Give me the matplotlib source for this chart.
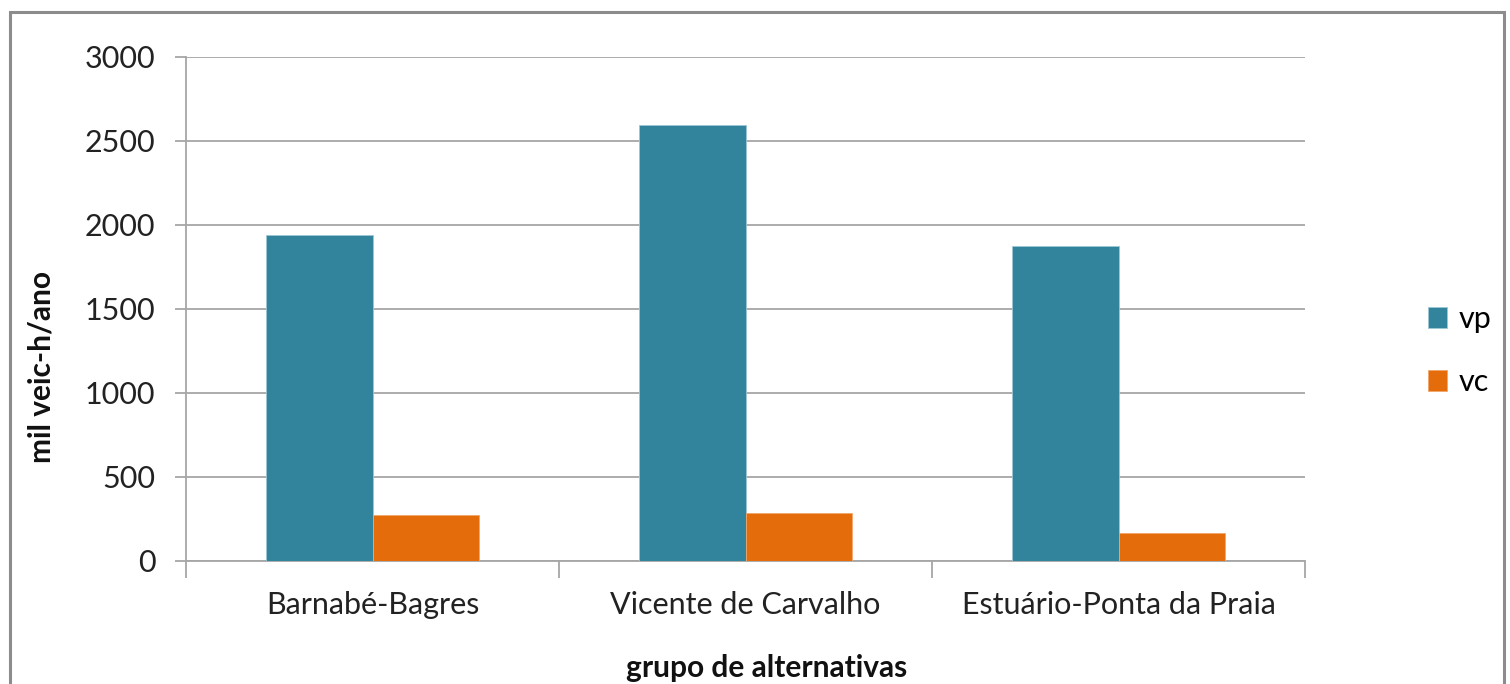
import matplotlib
matplotlib.use('Agg')
import numpy as np
import matplotlib.pyplot as plt
from matplotlib.patches import Rectangle

# Atraso anual por grupo de alternativas (mil veic-h/ano)
grupos = ["Barnabé-Bagres", "Vicente de Carvalho", "Estuário-Ponta da Praia"]
vp = [1936, 2592, 1872]
vc = [271, 280, 161]
y_ticks = [0, 500, 1000, 1500, 2000, 2500, 3000]

COR_VP = "#31849B"
COR_VC = "#E46C0A"
CINZA = "#A6A6A6"

plt.rcParams['font.family'] = ['Lato', 'DejaVu Sans']

fig = plt.figure(figsize=(15.10, 6.84), dpi=100)
ax = fig.add_axes([186 / 1510, 1 - 560.5 / 684, (1305 - 186) / 1510, 504 / 684])

# moldura externa do gráfico
fig.patches.append(Rectangle((10 / 1510, -0.05), 1494 / 1510, 1 - 12 / 684 + 0.05,
                             transform=fig.transFigure, fill=False,
                             edgecolor="#8C8C8C", linewidth=2.2))

x = np.arange(len(grupos))
largura = 1 / 3.5
ax.bar(x - largura / 2, vp, largura, color=COR_VP, edgecolor="#9CC8D6",
       linewidth=0.6, label="vp", zorder=3)
ax.bar(x + largura / 2, vc, largura, color=COR_VC, edgecolor="#F2A66A",
       linewidth=0.6, label="vc", zorder=3)

ax.set_xlim(-0.5, len(grupos) - 0.5)
ax.set_ylim(0, 3000)
ax.set_yticks(y_ticks)
ax.set_yticklabels([str(v) for v in y_ticks])
ax.yaxis.grid(True, color=CINZA, linewidth=1.3, zorder=0)

# marcas do eixo x entre as categorias
ax.set_xticks(np.arange(-0.5, len(grupos)), minor=False)
ax.set_xticklabels([])
ax.set_xticks(x, minor=True)
ax.set_xticklabels(grupos, minor=True)
ax.tick_params(axis='x', which='major', length=12, width=1.3, color=CINZA)
ax.tick_params(axis='x', which='minor', length=0, pad=22, labelsize=22,
               labelcolor="#222222")
ax.tick_params(axis='y', length=8, width=1.3, color=CINZA, pad=14,
               labelsize=22, labelcolor="#222222")

for lado in ['top', 'right']:
    ax.spines[lado].set_visible(False)
for lado in ['left', 'bottom']:
    ax.spines[lado].set_color(CINZA)
    ax.spines[lado].set_linewidth(1.3)

ax.set_xlabel("grupo de alternativas", fontsize=21.5, fontweight='bold',
              color="#111111", va='center')
ax.set_ylabel("mil veic-h/ano", fontsize=21.5, fontweight='bold',
              color="#111111", va='center')
ax.xaxis.set_label_coords(0.519, -0.213)
ax.yaxis.set_label_coords(-0.1287, 0.384)

ax.legend(loc='center left', bbox_to_anchor=(1.085, 0.416), frameon=False,
          fontsize=22, handlelength=0.65, handleheight=0.65,
          labelspacing=1.15, handletextpad=0.35)

fig.savefig("out.png", dpi=100)
